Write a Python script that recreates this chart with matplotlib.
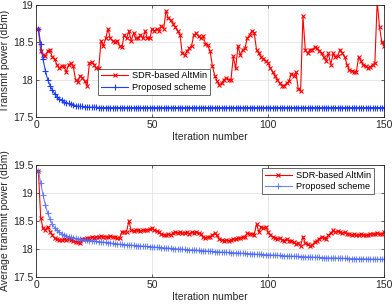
import numpy as np
import matplotlib.pyplot as plt

plt.rcParams['font.family'] = ['Liberation Sans', 'DejaVu Sans']

# ===== data =====
it = np.arange(1, 151)

# top panel: transmit power (dBm)
top_sdr = [18.68, 18.38, 18.33, 18.32, 18.38, 18.40, 18.30, 18.27, 18.20, 18.15,
           18.18, 18.18, 18.10, 18.20, 18.22, 18.18, 18.00, 17.97, 18.05, 18.02,
           17.98, 17.92, 18.22, 18.23, 18.20, 18.15, 18.15, 18.52, 18.45, 18.55,
           18.68, 18.55, 18.52, 18.50, 18.52, 18.45, 18.43, 18.60, 18.55, 18.65,
           18.52, 18.62, 18.55, 18.55, 18.60, 18.55, 18.65, 18.55, 18.55, 18.68,
           18.65, 18.68, 18.65, 18.72, 18.68, 18.92, 18.82, 18.80, 18.75, 18.70,
           18.65, 18.60, 18.35, 18.33, 18.38, 18.42, 18.45, 18.60, 18.62, 18.58,
           18.55, 18.58, 18.48, 18.46, 18.38, 18.18, 18.05, 17.98, 17.93, 17.95,
           18.00, 18.02, 18.00, 18.00, 18.31, 18.15, 18.45, 18.33, 18.40, 18.42,
           18.55, 18.60, 18.65, 18.63, 18.40, 18.35, 18.30, 18.28, 18.25, 18.22,
           18.15, 18.10, 18.05, 18.00, 17.95, 17.92, 17.92, 17.95, 17.98, 18.08,
           18.05, 18.10, 17.87, 17.85, 18.85, 18.40, 18.35, 18.40, 18.40, 18.43,
           18.42, 18.38, 18.35, 18.30, 18.25, 18.35, 18.20, 18.35, 18.30, 18.32,
           18.40, 18.35, 18.30, 18.20, 18.13, 18.12, 18.10, 18.10, 18.30, 18.25,
           18.20, 18.18, 18.15, 18.17, 18.20, 18.22, 19.05, 18.70, 18.50, 18.45]

top_prop = [18.68, 18.48, 18.27, 18.12, 18.00, 17.92, 17.86, 17.81, 17.77, 17.74,
            17.72, 17.70, 17.69, 17.68, 17.67, 17.66, 17.65, 17.645, 17.64, 17.64,
            17.635, 17.635, 17.63, 17.63, 17.63, 17.63, 17.625, 17.625, 17.625, 17.625,
            17.625, 17.625, 17.625, 17.625, 17.625, 17.625, 17.625, 17.625, 17.625, 17.625,
            17.625, 17.625, 17.625, 17.625, 17.625, 17.625, 17.625, 17.625, 17.625, 17.625,
            17.625, 17.625, 17.625, 17.625, 17.625, 17.625, 17.625, 17.625, 17.625, 17.625,
            17.625, 17.625, 17.625, 17.625, 17.625, 17.625, 17.625, 17.625, 17.625, 17.625,
            17.625, 17.625, 17.625, 17.625, 17.625, 17.625, 17.625, 17.625, 17.625, 17.625,
            17.625, 17.625, 17.625, 17.625, 17.625, 17.625, 17.625, 17.625, 17.625, 17.625,
            17.625, 17.625, 17.625, 17.625, 17.625, 17.625, 17.625, 17.625, 17.625, 17.625,
            17.625, 17.625, 17.625, 17.625, 17.625, 17.625, 17.625, 17.625, 17.625, 17.625,
            17.625, 17.625, 17.625, 17.625, 17.625, 17.625, 17.625, 17.625, 17.625, 17.625,
            17.625, 17.625, 17.625, 17.625, 17.625, 17.625, 17.625, 17.625, 17.625, 17.625,
            17.625, 17.625, 17.625, 17.625, 17.625, 17.625, 17.625, 17.625, 17.625, 17.625,
            17.625, 17.625, 17.625, 17.625, 17.625, 17.625, 17.625, 17.625, 17.625, 17.625]

# bottom panel: average transmit power (dBm)
bot_sdr = [19.40, 18.55, 18.37, 18.34, 18.40, 18.31, 18.25, 18.19, 18.17, 18.16,
           18.16, 18.17, 18.16, 18.18, 18.16, 18.15, 18.13, 18.12, 18.10, 18.17,
           18.18, 18.19, 18.20, 18.21, 18.20, 18.22, 18.21, 18.23, 18.22, 18.22,
           18.21, 18.23, 18.22, 18.21, 18.20, 18.19, 18.31, 18.30, 18.31, 18.50,
           18.33, 18.32, 18.34, 18.33, 18.32, 18.34, 18.33, 18.34, 18.35, 18.37,
           18.33, 18.32, 18.30, 18.26, 18.25, 18.24, 18.26, 18.25, 18.28, 18.30,
           18.29, 18.30, 18.28, 18.29, 18.30, 18.27, 18.30, 18.29, 18.31, 18.28,
           18.26, 18.21, 18.20, 18.22, 18.21, 18.25, 18.28, 18.24, 18.17, 18.16,
           18.15, 18.16, 18.15, 18.16, 18.18, 18.17, 18.20, 18.19, 18.21, 18.22,
           18.28, 18.26, 18.27, 18.25, 18.45, 18.30, 18.40, 18.37, 18.40, 18.30,
           18.25, 18.22, 18.20, 18.18, 18.20, 18.16, 18.15, 18.18, 18.14, 18.15,
           18.12, 18.08, 18.10, 18.05, 18.22, 18.10, 18.08, 18.05, 18.07, 18.12,
           18.15, 18.18, 18.22, 18.20, 18.18, 18.25, 18.28, 18.33, 18.30, 18.32,
           18.30, 18.28, 18.30, 18.27, 18.26, 18.25, 18.26, 18.24, 18.25, 18.26,
           18.25, 18.24, 18.25, 18.26, 18.27, 18.26, 18.28, 18.26, 18.27, 18.30]

bot_prop = [19.40, 19.18, 18.96, 18.79, 18.64, 18.53, 18.44, 18.38, 18.33, 18.30,
            18.27, 18.25, 18.23, 18.22, 18.21, 18.20, 18.19, 18.18, 18.17, 18.165,
            18.16, 18.155, 18.15, 18.145, 18.14, 18.135, 18.13, 18.125, 18.12, 18.115,
            18.11, 18.105, 18.10, 18.095, 18.09, 18.085, 18.08, 18.078, 18.075, 18.07,
            18.067, 18.064, 18.06, 18.057, 18.054, 18.05, 18.047, 18.044, 18.04, 18.037,
            18.034, 18.03, 18.027, 18.024, 18.02, 18.017, 18.014, 18.01, 18.007, 18.004,
            18.00, 17.997, 17.994, 17.99, 17.987, 17.984, 17.98, 17.978, 17.975, 17.972,
            17.97, 17.967, 17.964, 17.96, 17.958, 17.955, 17.952, 17.95, 17.947, 17.944,
            17.942, 17.94, 17.937, 17.934, 17.932, 17.93, 17.927, 17.924, 17.922, 17.92,
            17.917, 17.914, 17.912, 17.91, 17.907, 17.904, 17.902, 17.90, 17.897, 17.895,
            17.892, 17.89, 17.888, 17.885, 17.883, 17.88, 17.878, 17.876, 17.874, 17.872,
            17.87, 17.868, 17.866, 17.864, 17.862, 17.86, 17.858, 17.856, 17.854, 17.852,
            17.85, 17.848, 17.846, 17.845, 17.843, 17.841, 17.84, 17.838, 17.837, 17.835,
            17.834, 17.832, 17.831, 17.83, 17.828, 17.827, 17.826, 17.825, 17.824, 17.823,
            17.822, 17.821, 17.82, 17.819, 17.818, 17.817, 17.816, 17.815, 17.814, 17.813]

labels = ['SDR-based AltMin', 'Proposed scheme']
fs = 7.5
lfs = 6.6

fig = plt.figure(figsize=(3.92, 3.06), dpi=100)
ax1 = fig.add_axes([0.092, 0.618, 0.888, 0.366])
ax2 = fig.add_axes([0.092, 0.095, 0.888, 0.366])


def style(ax, ylim, yticks, ylabel):
    ax.set_xlim(0, 150)
    ax.set_ylim(*ylim)
    ax.set_xticks([0, 50, 100, 150])
    ax.set_yticks(yticks)
    ax.set_yticklabels([('%g' % v) for v in yticks])
    ax.grid(color='#e3e3e3', linewidth=0.6)
    ax.set_axisbelow(True)
    ax.tick_params(labelsize=fs, length=2.5, width=0.5, direction='in',
                   top=True, right=True, colors='#262626', pad=2)
    for s in ax.spines.values():
        s.set_linewidth(0.6)
        s.set_color('#262626')
    ax.set_xlabel('Iteration number', fontsize=fs, color='#262626', labelpad=2)
    ax.set_ylabel(ylabel, fontsize=fs, color='#262626', labelpad=2)


# ===== 上段 =====
ax1.plot(it, top_sdr, color='red', marker='x', markersize=3.5, linewidth=0.8,
         markeredgewidth=0.8, label=labels[0])
ax1.plot(it, top_prop, color='#1f3dff', marker='+', markersize=5, linewidth=0.8,
         markeredgewidth=0.8, label=labels[1])
style(ax1, (17.5, 19), [17.5, 18, 18.5, 19], 'Transmit power (dBm)')
ax1.legend(loc='upper left', bbox_to_anchor=(0.178, 0.43), fontsize=lfs,
           frameon=True, fancybox=False, edgecolor='#262626', borderpad=0.3,
           handlelength=3.0, labelspacing=0.25, handletextpad=0.4,
           borderaxespad=0).get_frame().set_linewidth(0.6)

# ===== 下段 =====
ax2.plot(it, bot_sdr, color='red', marker='x', markersize=3.5, linewidth=0.8,
         markeredgewidth=0.8, label=labels[0])
ax2.plot(it, bot_prop, color='#4d6bff', marker='+', markersize=5, linewidth=0.8,
         markeredgewidth=0.8, alpha=0.8, label=labels[1])
style(ax2, (17.5, 19.5), [17.5, 18, 18.5, 19, 19.5], 'Average transmit power (dBm)')
ax2.legend(loc='upper right', bbox_to_anchor=(0.97, 0.97), fontsize=lfs,
           frameon=True, fancybox=False, edgecolor='#262626', borderpad=0.3,
           handlelength=3.0, labelspacing=0.25, handletextpad=0.4,
           borderaxespad=0).get_frame().set_linewidth(0.6)

plt.savefig('out.png', dpi=100)
